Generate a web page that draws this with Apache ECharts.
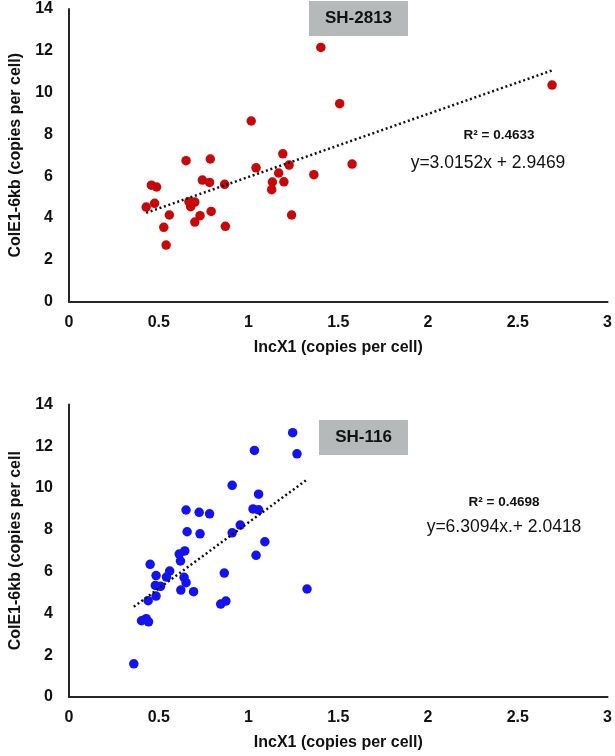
<!DOCTYPE html>
<html>
<head>
<meta charset="utf-8">
<script src="https://cdn.jsdelivr.net/npm/echarts@6/dist/echarts.min.js"></script>
<style>
html,body{margin:0;padding:0;background:#fff;}
#chart{width:615px;height:756px;}
</style>
</head>
<body>
<div id="chart"></div>
<script>
// ---- Data ----
const xTicks = [0, 0.5, 1, 1.5, 2, 2.5, 3];
const yTicks = [0, 2, 4, 6, 8, 10, 12, 14];

const sh2813X = [1.403,1.508,1.015,0.652,0.787,1.191,1.042,1.226,1.168,1.577,1.364,0.459,0.488,0.743,0.783,0.867,1.133,1.197,1.129,0.430,0.477,0.668,0.701,0.678,0.559,0.730,0.792,0.701,0.528,0.871,1.240,0.541,2.691];
const sh2813Y = [12.16,9.47,8.64,6.74,6.82,7.07,6.40,6.53,6.15,6.58,6.07,5.57,5.48,5.81,5.70,5.61,5.72,5.73,5.35,4.52,4.70,4.78,4.76,4.54,4.14,4.11,4.31,3.80,3.55,3.60,4.14,2.70,10.36];

const sh116X = [1.246,1.033,1.270,0.909,1.056,0.652,0.725,0.783,1.025,1.056,0.658,0.730,0.909,0.954,1.091,1.042,0.645,0.614,0.621,0.452,0.485,0.561,0.543,0.641,0.652,0.865,0.481,0.510,0.623,0.694,0.485,0.441,0.874,0.845,1.326,0.404,0.430,0.443,0.361];
const sh116Y = [12.65,11.80,11.64,10.13,9.71,8.95,8.84,8.77,9.00,8.96,7.91,7.81,7.86,8.23,7.43,6.78,6.99,6.84,6.51,6.35,5.81,6.03,5.74,5.73,5.47,5.93,5.34,5.30,5.12,5.04,4.83,4.61,4.59,4.45,5.17,3.65,3.75,3.60,1.59];

const fitTop = {slope: 3.0152, intercept: 2.9469, r2: '0.4633', eq: 'y=3.0152x + 2.9469'};
const fitBottom = {slope: 6.3094, intercept: 2.0418, r2: '0.4698', eq: 'y=6.3094x.+ 2.0418'};

const titles = ['SH-2813', 'SH-116'];
const xName = 'IncX1 (copies per cell)';
const yNames = ['ColE1-6kb (copies per cell)', 'ColE1-6kb (copies per cell'];

// ---- Build ----
const pairs = (xs, ys) => xs.map((x, i) => [x, ys[i]]);
const trend = (xs, fit) => {
  const lo = Math.min(...xs), hi = Math.max(...xs);
  return [[lo, fit.slope * lo + fit.intercept], [hi, fit.slope * hi + fit.intercept]];
};

const FONT = '"Liberation Sans", Arial, sans-serif';
const axisLine = {show: true, lineStyle: {color: '#262626', width: 2}};

function xAxis(idx) {
  return {
    gridIndex: idx, type: 'value', min: 0, max: 3, interval: 0.5,
    axisLine: axisLine, axisTick: {show: false}, splitLine: {show: false},
    axisLabel: {color: '#111', fontFamily: FONT, fontWeight: 'bold', fontSize: 16, margin: 13,
      formatter: v => xTicks.includes(v) ? String(v) : ''},
    name: xName, nameLocation: 'middle', nameGap: 38,
    nameTextStyle: {color: '#111', fontFamily: FONT, fontWeight: 'bold', fontSize: 16}
  };
}
function yAxis(idx) {
  return {
    gridIndex: idx, type: 'value', min: 0, max: 14, interval: 2,
    axisLine: axisLine, axisTick: {show: false}, splitLine: {show: false},
    axisLabel: {color: '#111', fontFamily: FONT, fontWeight: 'bold', fontSize: 16, margin: 16,
      formatter: v => yTicks.includes(v) ? String(v) : ''},
    name: yNames[idx], nameLocation: 'middle', nameGap: 45,
    nameTextStyle: {color: '#111', fontFamily: FONT, fontWeight: 'bold', fontSize: 16}
  };
}

function boxTitle(text, x, y, w, h) {
  return {
    type: 'group', left: x, top: y,
    children: [
      {type: 'rect', shape: {x: 0, y: 0, width: w, height: h}, style: {fill: '#b5b9b9'}},
      {type: 'text', x: w / 2, y: h / 2, style: {text: text, fill: '#111', font: 'bold 17px ' + FONT, textAlign: 'center', textVerticalAlign: 'middle'}}
    ]
  };
}
function txt(text, x, y, font) {
  return {type: 'text', x: x, y: y, style: {text: text, fill: '#111', font: font, textAlign: 'center', textVerticalAlign: 'middle'}};
}

const option = {
  backgroundColor: '#fff',
  animation: false,
  grid: [
    {left: 60, right: 6, top: 9, height: 292.5},
    {left: 60, right: 6, top: 404.5, height: 292.5}
  ],
  xAxis: [xAxis(0), xAxis(1)],
  yAxis: [yAxis(0), yAxis(1)],
  series: [
    {type: 'scatter', xAxisIndex: 0, yAxisIndex: 0, data: pairs(sh2813X, sh2813Y),
      symbolSize: 9.5, itemStyle: {color: '#c80808', opacity: 1}},
    {type: 'line', xAxisIndex: 0, yAxisIndex: 0, data: trend(sh2813X, fitTop), symbol: 'none',
      lineStyle: {color: '#111', width: 2.5, type: [2, 2.7]}},
    {type: 'scatter', xAxisIndex: 1, yAxisIndex: 1, data: pairs(sh116X, sh116Y),
      symbolSize: 9.5, itemStyle: {color: '#1212f2', opacity: 1}},
    {type: 'line', xAxisIndex: 1, yAxisIndex: 1, data: trend(sh116X, fitBottom), symbol: 'none',
      lineStyle: {color: '#111', width: 2.5, type: [2, 2.7]}}
  ],
  graphic: [
    boxTitle(titles[0], 309, 1, 99, 35),
    boxTitle(titles[1], 319, 420, 89, 35),
    txt('R² = ' + fitTop.r2, 499, 135, 'bold 13.5px ' + FONT),
    txt(fitTop.eq, 488, 163, '17.5px ' + FONT),
    txt('R² = ' + fitBottom.r2, 504, 502, 'bold 13.5px ' + FONT),
    txt(fitBottom.eq, 504, 527, '17.5px ' + FONT)
  ]
};

const chart = echarts.init(document.getElementById('chart'), null, {renderer: 'canvas'});
chart.setOption(option);
</script>
</body>
</html>
